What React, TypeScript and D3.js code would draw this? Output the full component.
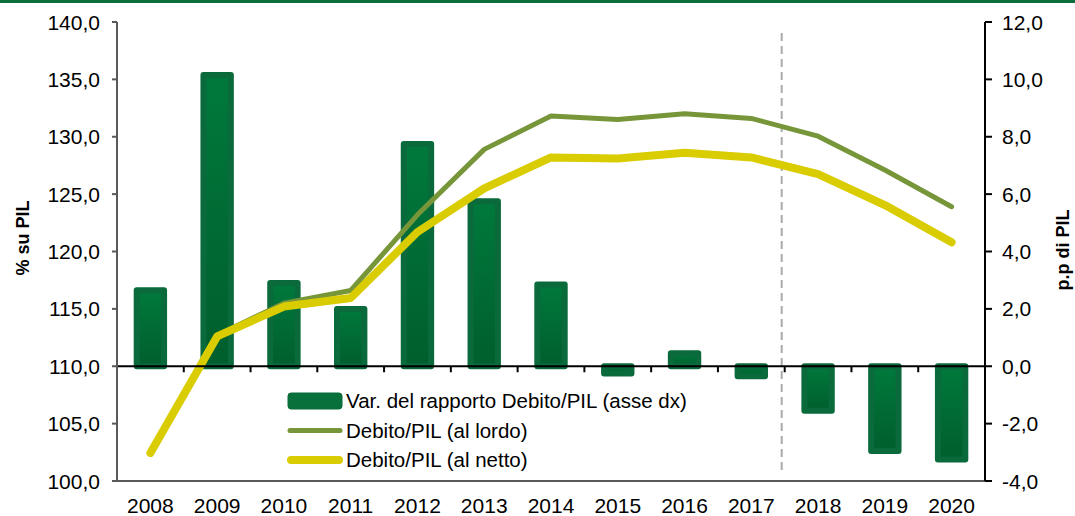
import * as d3 from 'd3'

const WIDTH = 1075
const HEIGHT = 516
const LEFT = 117
const RIGHT = 985
const TOP = 22
const BOTTOM = 481

const years = ['2008', '2009', '2010', '2011', '2012', '2013', '2014', '2015', '2016', '2017', '2018', '2019', '2020']
const varRapporto = [2.65, 10.15, 2.9, 2.0, 7.75, 5.75, 2.85, -0.25, 0.45, -0.35, -1.55, -2.95, -3.25]
const debitoLordo = [102.5, 112.7, 115.5, 116.6, 123.2, 128.9, 131.8, 131.5, 132.0, 131.6, 130.05, 127.1, 123.9]
const debitoNetto = [102.44, 112.6, 115.2, 115.95, 121.7, 125.5, 128.2, 128.1, 128.6, 128.2, 126.75, 124.05, 120.8]
const leftTicks = [100, 105, 110, 115, 120, 125, 130, 135, 140]
const rightTicks = [-4, -2, 0, 2, 4, 6, 8, 10, 12]

const legendItems = [
  { label: 'Var. del rapporto Debito/PIL (asse dx)', kind: 'bar' },
  { label: 'Debito/PIL (al lordo)', kind: 'lordo' },
  { label: 'Debito/PIL (al netto)', kind: 'netto' },
]

const FONT = '"Liberation Sans", Arial, sans-serif'
const TICK_SIZE = 21
const fmt = (v: number) => v.toFixed(1).replace('.', ',')

export default function App() {
  const x = d3.scaleBand<string>().domain(years).range([LEFT, RIGHT]).paddingInner(0.5).paddingOuter(0.25)
  const step = x.step()
  const cx = (y: string) => x(y)! + x.bandwidth() / 2
  const yL = d3.scaleLinear([100, 140], [BOTTOM, TOP])
  const yR = d3.scaleLinear([-4, 12], [BOTTOM, TOP])

  const line = d3
    .line<number>()
    .x((_, i) => cx(years[i]))
    .y((d) => yL(d))

  const boundaries = d3.range(years.length + 1).map((i) => LEFT + i * step)
  const dashX = LEFT + 10 * step - 3

  return (
    <svg width={WIDTH} height={HEIGHT} style={{ position: 'absolute', left: 0, top: 0, fontFamily: FONT }}>
      <defs>
        <linearGradient id="barGrad" x1="0" y1="0" x2="0" y2="1">
          <stop offset="0%" stopColor="#00793c" />
          <stop offset="100%" stopColor="#005e2d" />
        </linearGradient>
      </defs>
      <rect x={0} y={0} width={WIDTH} height={3} fill="#0b6e3d" />

      {/* bars */}
      {varRapporto.map((v, i) => {
        const y0 = yR(Math.max(v, 0))
        const y1 = yR(Math.min(v, 0))
        return (
          <rect
            key={years[i]}
            x={x(years[i])! + 3}
            y={y0}
            width={x.bandwidth() - 6}
            height={Math.max(y1 - y0, 0.5)}
            fill="url(#barGrad)"
            stroke="#0a6a3b"
            strokeWidth={6}
            strokeLinejoin="round"
          />
        )
      })}

      {/* dashed separator */}
      <line x1={dashX} x2={dashX} y1={33} y2={475} stroke="#aaaaaa" strokeWidth={2} strokeDasharray="8,5" />

      {/* lines */}
      <path d={line(debitoLordo)!} fill="none" stroke="#77963a" strokeWidth={5} strokeLinecap="round" strokeLinejoin="round" />
      <path d={line(debitoNetto)!} fill="none" stroke="#d9cc00" strokeWidth={8} strokeLinecap="round" strokeLinejoin="round" />

      {/* zero line with category ticks */}
      <line x1={LEFT} x2={RIGHT} y1={yR(0)} y2={yR(0)} stroke="#000" strokeWidth={2} />
      {boundaries.map((bx) => (
        <line key={bx} x1={bx} x2={bx} y1={yR(0)} y2={yR(0) + 6} stroke="#000" strokeWidth={2} />
      ))}

      {/* left axis */}
      <line x1={LEFT} x2={LEFT} y1={TOP} y2={BOTTOM} stroke="#595959" strokeWidth={2} />
      <line x1={LEFT - 5} x2={RIGHT} y1={BOTTOM} y2={BOTTOM} stroke="#595959" strokeWidth={2} />
      {leftTicks.map((t) => (
        <g key={t}>
          <line x1={LEFT - 5} x2={LEFT} y1={yL(t)} y2={yL(t)} stroke="#595959" strokeWidth={2} />
          <text x={100} y={yL(t)} dy="0.36em" textAnchor="end" fontSize={TICK_SIZE} fill="#000">
            {fmt(t)}
          </text>
        </g>
      ))}

      {/* right axis */}
      <line x1={RIGHT} x2={RIGHT} y1={TOP} y2={BOTTOM} stroke="#000" strokeWidth={2} />
      {rightTicks.map((t) => (
        <g key={t}>
          <line x1={RIGHT} x2={RIGHT + 7} y1={yR(t)} y2={yR(t)} stroke="#000" strokeWidth={2} />
          <text x={1002} y={yR(t)} dy="0.36em" textAnchor="start" fontSize={TICK_SIZE} fill="#000">
            {fmt(t)}
          </text>
        </g>
      ))}

      {/* x labels */}
      {years.map((y) => (
        <text key={y} x={cx(y)} y={513} textAnchor="middle" fontSize={TICK_SIZE} fill="#000">
          {y}
        </text>
      ))}

      {/* axis titles */}
      <text transform="translate(29,238) rotate(-90)" textAnchor="middle" fontSize={18} fontWeight="bold" fill="#000">
        % su PIL
      </text>
      <text transform="translate(1069,250) rotate(-90)" textAnchor="middle" fontSize={18} fontWeight="bold" fill="#000">
        p.p di PIL
      </text>

      {/* legend */}
      {legendItems.map((item, i) => {
        const ly = 401 + i * 29.5
        return (
          <g key={item.label}>
            {item.kind === 'bar' && (
              <rect x={288} y={ly - 8} width={54} height={16} rx={3} fill="#08703b" stroke="#0a6a3b" strokeWidth={1} />
            )}
            {item.kind === 'lordo' && (
              <line x1={290} x2={340} y1={ly} y2={ly} stroke="#77963a" strokeWidth={5} strokeLinecap="round" />
            )}
            {item.kind === 'netto' && (
              <line x1={291} x2={339} y1={ly} y2={ly} stroke="#d9cc00" strokeWidth={8} strokeLinecap="round" />
            )}
            <text x={346} y={ly} dy="0.36em" fontSize={20.5} fill="#000">
              {item.label}
            </text>
          </g>
        )
      })}
    </svg>
  )
}
